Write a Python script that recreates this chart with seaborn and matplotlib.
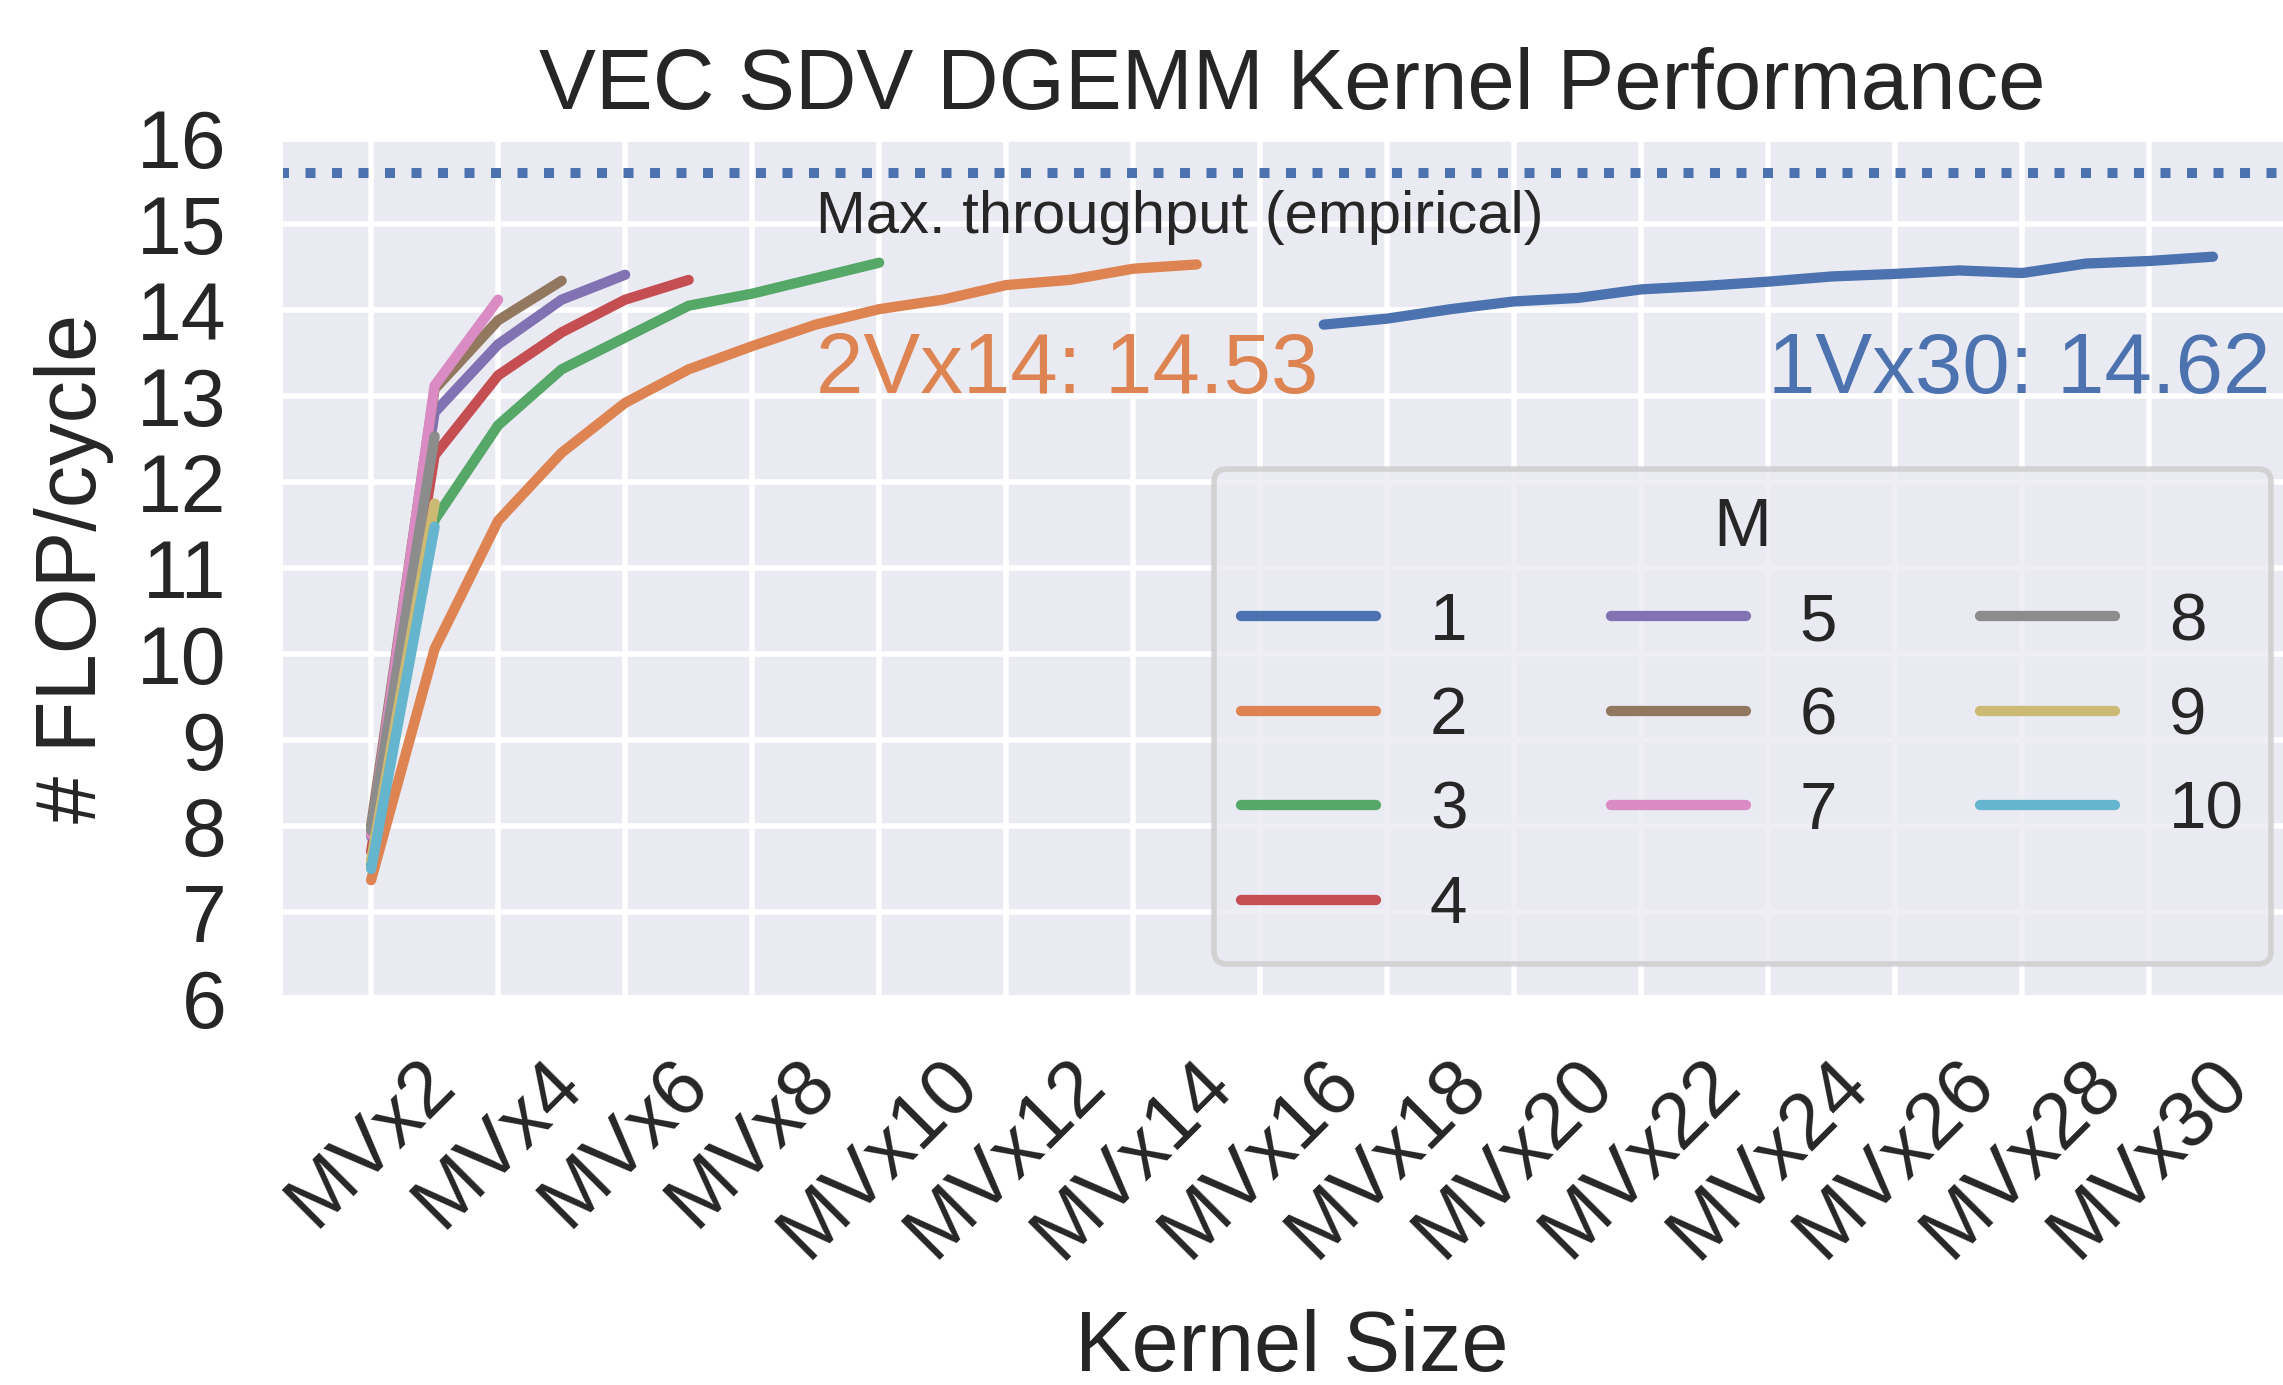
import matplotlib
matplotlib.use("Agg")
import matplotlib.pyplot as plt
import seaborn as sns
import pandas as pd

# ---- data ----
m1_n = list(range(16, 31))
m1_v = [13.83, 13.90, 14.01, 14.10, 14.14, 14.24, 14.28, 14.33, 14.39, 14.42, 14.46, 14.43, 14.54, 14.57, 14.62]
m2_v = [7.37, 10.06, 11.55, 12.34, 12.92, 13.31, 13.58, 13.83, 14.01, 14.12, 14.29, 14.35, 14.48, 14.53]
m3_v = [7.55, 11.56, 12.66, 13.31, 13.68, 14.05, 14.19, 14.37, 14.55]
m4_v = [7.70, 12.31, 13.24, 13.74, 14.12, 14.35]
m5_v = [7.88, 12.81, 13.60, 14.12, 14.41]
m6_v = [8.00, 13.08, 13.88, 14.34]
m7_v = [7.90, 13.12, 14.12]
m8_v = [7.95, 12.53]
m9_v = [7.60, 11.75]
m10_v = [7.50, 11.48]
max_throughput = 15.59
tick_pos = list(range(1, 30, 2))
tick_labels = [f"MVx{n}" for n in range(2, 31, 2)]

series = {1: (m1_n, m1_v)}
for m, vals in zip(range(2, 11), [m2_v, m3_v, m4_v, m5_v, m6_v, m7_v, m8_v, m9_v, m10_v]):
    series[m] = (list(range(1, len(vals) + 1)), vals)

rows = []
for m, (ns, vs) in series.items():
    for n, v in zip(ns, vs):
        rows.append({"M": str(m), "N": n, "FLOP": v})
df = pd.DataFrame(rows)

# ---- style ----
sns.set_theme(style="darkgrid", context="poster", font_scale=1.25)
plt.rcParams["font.family"] = ["Liberation Sans", "DejaVu Sans"]

W, H = 2283, 1385
fig = plt.figure(figsize=(W / 200, H / 200), dpi=200)
left_px, right_px, top_px, bot_px = 279, 2305, 138, 998
ax = fig.add_axes([left_px / W, (H - bot_px) / H, (right_px - left_px) / W, (bot_px - top_px) / H])

LW = 3.7
hue_order = [str(m) for m in range(1, 11)]
sns.lineplot(data=df, x="N", y="FLOP", hue="M", hue_order=hue_order,
             palette="deep", linewidth=LW, solid_capstyle="round", ax=ax)

ax.axhline(max_throughput, color=sns.color_palette("deep")[0], linestyle=":", linewidth=3.6)

ax.set_xlim(-0.45, 31.45)
ax.set_ylim(6, 16)
ax.set_yticks(list(range(6, 17)))
ax.set_xticks(tick_pos)
ax.set_xticklabels(tick_labels, rotation=45, ha="center")
ax.tick_params(axis="x", labelsize=28.5, length=0, pad=17)
ax.tick_params(axis="y", labelsize=29, length=0, pad=19)

ax.set_title("VEC SDV DGEMM Kernel Performance", fontsize=30.7, pad=10.4)
ax.set_xlabel("Kernel Size", fontsize=30.5, labelpad=13)
ax.set_ylabel("# FLOP/cycle", fontsize=30.5, labelpad=8)

pal = sns.color_palette("deep")
ax.text(8, 14.9, "Max. throughput (empirical)", fontsize=21.5, color="#262626",
        ha="left", va="baseline")
ax.text(8, 13.03, "2Vx14: 14.53", fontsize=30.7, color=pal[1], ha="left", va="baseline")
ax.text(23, 13.03, "1Vx30: 14.62", fontsize=30.7, color=pal[0], ha="left", va="baseline")

sns.move_legend(ax, "lower right", ncol=3, title="M", fontsize=24.3, title_fontsize=25,
                borderaxespad=0.5, handlelength=2.0, handletextpad=0.8,
                columnspacing=2.12, labelspacing=0.48, frameon=True)
leg = ax.get_legend()
leg.get_frame().set_linewidth(2)
for h in leg.legend_handles:
    h.set_linewidth(LW)
    h.set_solid_capstyle("round")

fig.savefig("out.png", dpi=200)
